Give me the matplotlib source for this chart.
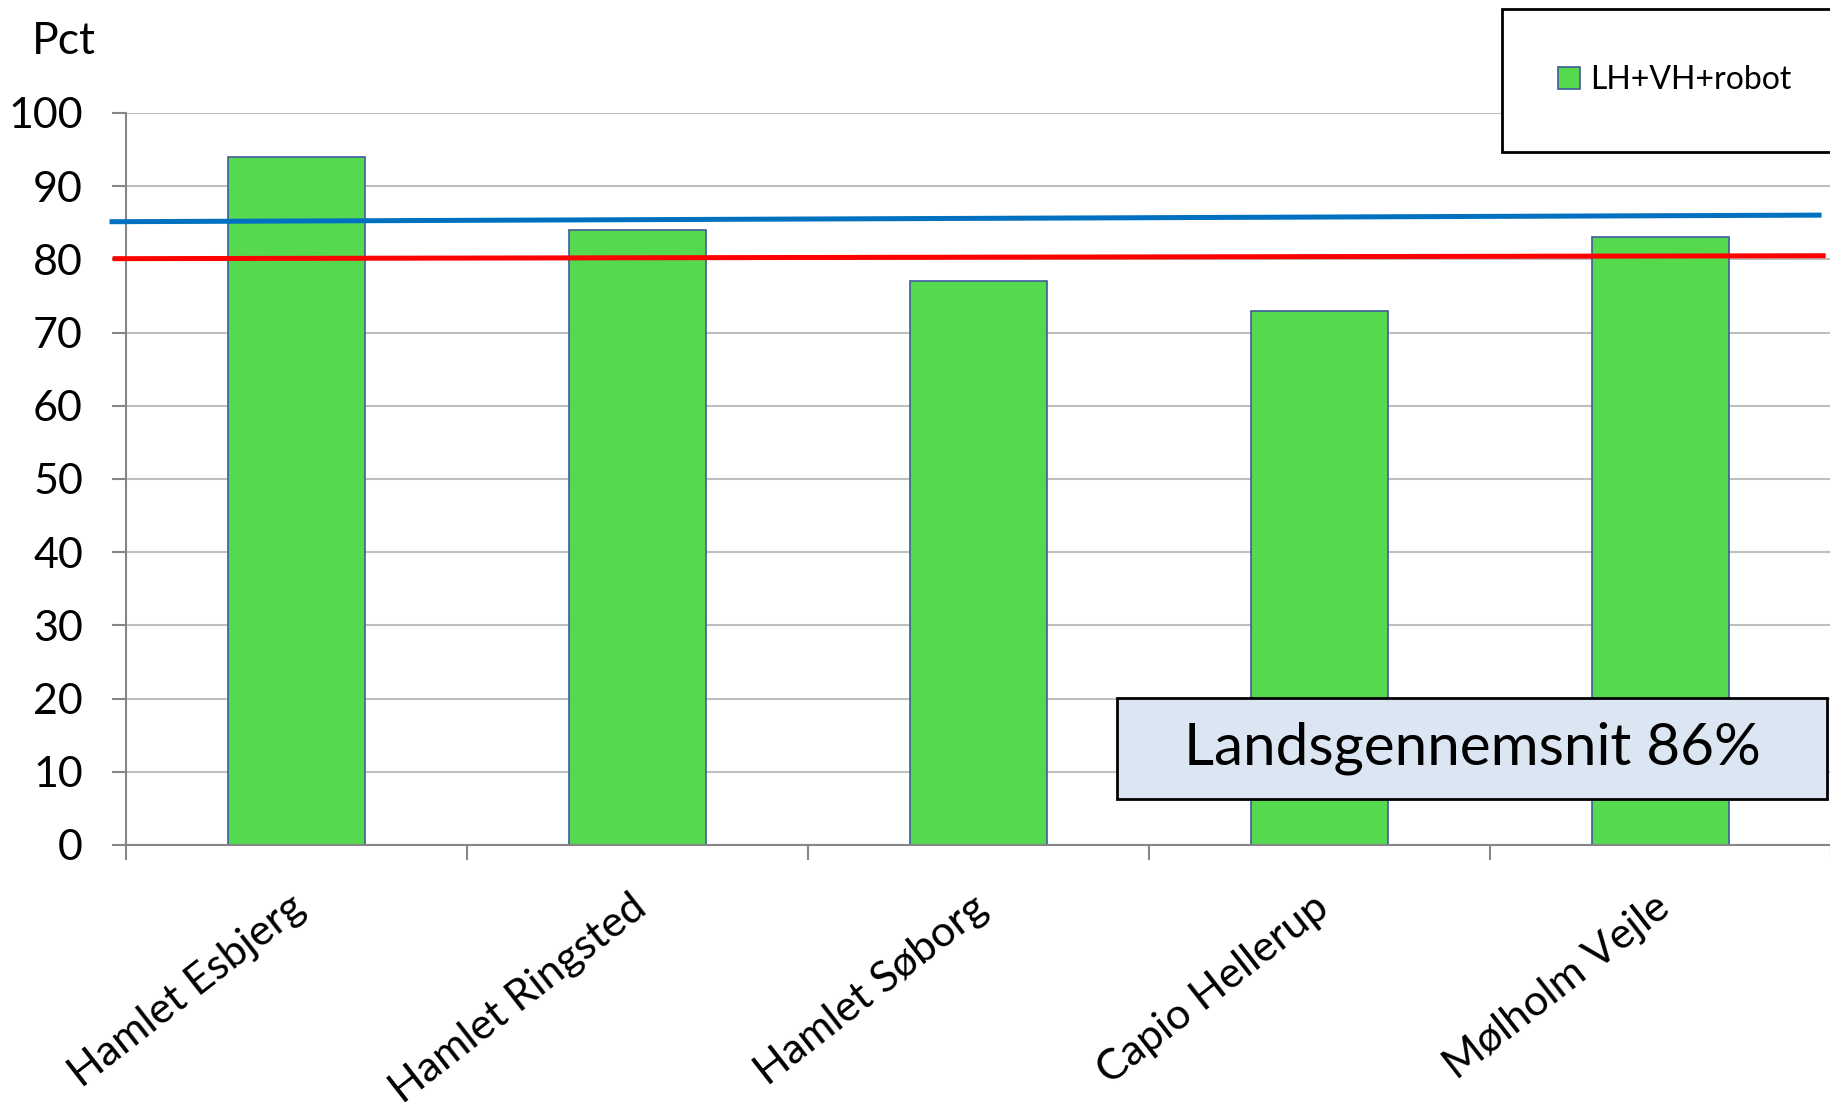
import matplotlib
matplotlib.use('Agg')
import matplotlib.pyplot as plt
from matplotlib.patches import Rectangle
import matplotlib.transforms as mtransforms
import numpy as np

# data
categories = ['Hamlet Esbjerg', 'Hamlet Ringsted', 'Hamlet Søborg', 'Capio Hellerup', 'Mølholm Vejle']
values = [94, 84, 77, 73, 83]
series_name = 'LH+VH+robot'
blue_line = [85.15, 86.05]
red_line = [80.1, 80.5]
yticks = [0, 10, 20, 30, 40, 50, 60, 70, 80, 90, 100]
note_text = 'Landsgennemsnit 86%'

W, H = 1831, 1112
plt.rcParams['font.family'] = ['Lato', 'DejaVu Sans']

fig = plt.figure(figsize=(W / 100, H / 100), dpi=100)
ax = fig.add_axes([126 / W, (H - 845) / H, 1 - 126 / W, (845 - 113) / H])

x = np.arange(len(categories))
bars = ax.bar(x, values, width=0.4, color='#55DA4F', edgecolor='#3F5C9E',
              linewidth=1.2, zorder=2, label=series_name)

# reference lines (slightly beyond the axis)
ax.plot([-0.541, 4.465], blue_line, color='#0070C0', lw=3.6, clip_on=False, zorder=3)
ax.plot([-0.532, 4.477], red_line, color='#FF0000', lw=3.6, clip_on=False, zorder=3)

ax.set_xlim(-0.5, len(categories) - 0.5)
ax.set_ylim(0, 100)
ax.set_yticks(yticks)
ax.yaxis.grid(True, color='#BFBFBF', lw=1.5, zorder=0)
ax.set_axisbelow(True)

for s in ['top', 'right']:
    ax.spines[s].set_visible(False)
for s in ['left', 'bottom']:
    ax.spines[s].set_color('#868686')
    ax.spines[s].set_linewidth(1.5)

ax.tick_params(axis='y', length=10, width=1.5, color='#868686', labelsize=31, pad=21)
# x ticks at category boundaries
ax.set_xticks(np.arange(len(categories) + 1) - 0.5)
ax.set_xticklabels([])
ax.tick_params(axis='x', length=11, width=1.5, color='#868686')

offset = mtransforms.ScaledTranslation(4 / 100, -58 / 100, fig.dpi_scale_trans)
for i, c in enumerate(categories):
    ax.text(i, 0, c, rotation=38, rotation_mode='anchor', ha='right', va='center',
            fontsize=31, transform=ax.get_xaxis_transform() + offset)

fig.text(32 / W, 1 - 42 / H, 'Pct', fontsize=32, ha='left', va='center')

# legend box
fig.patches.append(Rectangle((1502 / W, 1 - 152 / H), 400 / W, 143 / H, transform=fig.transFigure,
                             facecolor='white', edgecolor='black', lw=2, figure=fig))
fig.legend(handles=[bars], loc='center left', bbox_to_anchor=(1558 / W, 1 - 80 / H),
           frameon=False, fontsize=23, handlelength=0.7, handleheight=0.7,
           handletextpad=0.3, borderpad=0, borderaxespad=0)

# note box
fig.patches.append(Rectangle((1117 / W, 1 - 799 / H), 710 / W, 101 / H, transform=fig.transFigure,
                             facecolor='#DCE6F2', edgecolor='black', lw=2, figure=fig, zorder=5))
fig.text(1472 / W, 1 - 748 / H, note_text, fontsize=42, ha='center', va='center', zorder=6)

fig.savefig('out.png', dpi=100)
